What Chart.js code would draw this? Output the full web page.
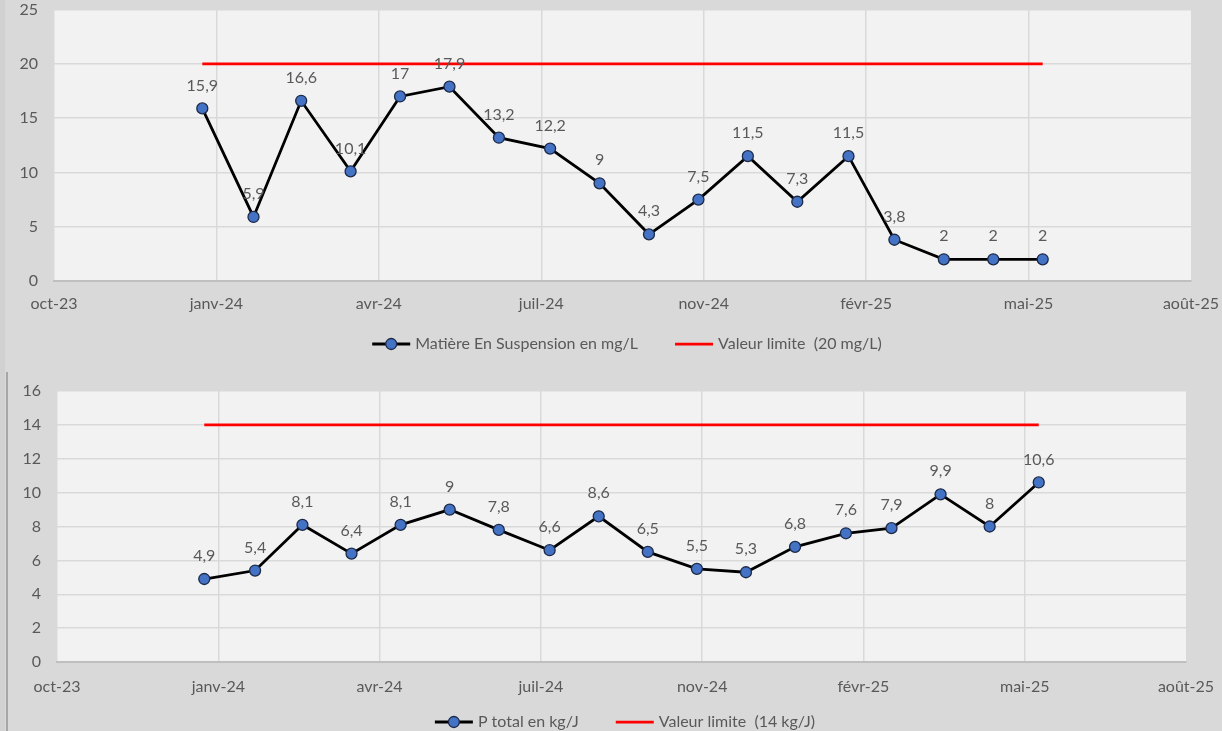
<!DOCTYPE html>
<html>
<head>
<meta charset="utf-8">
<script src="https://cdn.jsdelivr.net/npm/chart.js@4.4.1/dist/chart.umd.min.js"></script>
<style>
  body { margin: 0; background: #d9d9d9; width: 1222px; height: 731px; overflow: hidden; position: relative; }
  canvas { position: absolute; }
  #topChart { left: 0; top: 0; }
  #bottomChart { left: 8px; top: 372px; }
  .strip { position: absolute; left: 0; top: 0; width: 5px; height: 731px; background: #d1d1d1; }
  .frame { position: absolute; left: 6px; top: 372px; width: 2px; height: 359px; background: #a6a6a6; }
</style>
</head>
<body>
<div class="strip"></div>
<div class="frame"></div>
<canvas id="topChart" width="1222" height="362"></canvas>
<canvas id="bottomChart" width="1214" height="368"></canvas>
<script>
// sample dates (every ~4 weeks)
const sampleDates = ['2024-01-23', '2024-02-21', '2024-03-19', '2024-04-16', '2024-05-14', '2024-06-11',
  '2024-07-09', '2024-08-07', '2024-09-04', '2024-10-02', '2024-10-30', '2024-11-27',
  '2024-12-25', '2025-01-23', '2025-02-18', '2025-03-18', '2025-04-15', '2025-05-13'];

const mesValues = [15.9, 5.9, 16.6, 10.1, 17, 17.9, 13.2, 12.2, 9, 4.3, 7.5, 11.5, 7.3, 11.5, 3.8, 2, 2, 2];
const mesLimit = [20, 20, 20, 20, 20, 20, 20, 20, 20, 20, 20, 20, 20, 20, 20, 20, 20, 20];

const pValues = [4.9, 5.4, 8.1, 6.4, 8.1, 9, 7.8, 6.6, 8.6, 6.5, 5.5, 5.3, 6.8, 7.6, 7.9, 9.9, 8, 10.6];
const pLimit = [14, 14, 14, 14, 14, 14, 14, 14, 14, 14, 14, 14, 14, 14, 14, 14, 14, 14];

// x axis: date axis starting 2023-10-31, major unit 92 days
const axisStart = '2023-10-31';
const tickStepDays = 92;
const tickLabels = ['oct-23', 'janv-24', 'avr-24', 'juil-24', 'nov-24', 'févr-25', 'mai-25', 'août-25'];

const textColor = '#595959';
const gridColor = '#d9d9d9';
const markerFill = '#4472c4';
const markerEdge = '#1c2a48';
const font = { family: 'Lato', size: 16 };

function dayOffset(d) {
  return (Date.parse(d) - Date.parse(axisStart)) / 86400000;
}

function points(values) {
  return values.map((v, i) => ({ x: dayOffset(sampleDates[i]), y: v }));
}

const plotBackground = {
  id: 'plotBackground',
  beforeDraw(chart) {
    const { ctx, chartArea: a } = chart;
    ctx.save();
    ctx.fillStyle = '#f2f2f2';
    ctx.fillRect(a.left, a.top, a.width, a.height);
    ctx.restore();
  }
};

// data labels above the points, with a comma as decimal mark
const valueLabels = {
  id: 'valueLabels',
  afterDatasetsDraw(chart) {
    const ctx = chart.ctx;
    const ds = chart.data.datasets[0];
    ctx.save();
    ctx.font = font.size + 'px ' + font.family;
    ctx.fillStyle = textColor;
    ctx.textAlign = 'center';
    ctx.textBaseline = 'middle';
    chart.getDatasetMeta(0).data.forEach((pt, i) => {
      ctx.fillText(String(ds.data[i].y).replace('.', ','), pt.x, pt.y - 23);
    });
    ctx.restore();
  }
};

// Excel style legend: line (with marker when the series has one) then the label
const lineLegend = {
  id: 'lineLegend',
  afterDraw(chart, args, opts) {
    const ctx = chart.ctx;
    ctx.save();
    ctx.font = font.size + 'px ' + font.family;
    const items = chart.data.datasets.map((ds) => ({ ds, w: ctx.measureText(ds.label).width }));
    const symW = 38, textGap = 5, itemGap = 37;
    const total = items.reduce((s, it) => s + symW + textGap + it.w, 0) + itemGap * (items.length - 1);
    let x = opts.centerX - total / 2;
    const y = opts.y;
    items.forEach((it) => {
      ctx.strokeStyle = it.ds.borderColor;
      ctx.lineWidth = it.ds.borderWidth;
      ctx.beginPath();
      ctx.moveTo(x, y);
      ctx.lineTo(x + symW, y);
      ctx.stroke();
      if (it.ds.pointRadius > 0) {
        ctx.beginPath();
        ctx.arc(x + symW / 2, y, it.ds.pointRadius, 0, Math.PI * 2);
        ctx.fillStyle = it.ds.pointBackgroundColor;
        ctx.fill();
        ctx.strokeStyle = it.ds.pointBorderColor;
        ctx.lineWidth = it.ds.pointBorderWidth;
        ctx.stroke();
      }
      ctx.fillStyle = textColor;
      ctx.textAlign = 'left';
      ctx.textBaseline = 'middle';
      ctx.fillText(it.ds.label, x + symW + textGap, y);
      x += symW + textGap + it.w + itemGap;
    });
    ctx.restore();
  }
};

function makeChart(id, opts) {
  return new Chart(document.getElementById(id), {
    type: 'line',
    data: {
      datasets: [{
        label: opts.seriesLabel,
        data: points(opts.values),
        borderColor: '#000000',
        backgroundColor: '#000000',
        borderWidth: 2.8,
        pointRadius: 5.5,
        pointBackgroundColor: markerFill,
        pointBorderColor: markerEdge,
        pointBorderWidth: 1.3,
        tension: 0
      }, {
        label: opts.limitLabel,
        data: points(opts.limit),
        borderColor: '#ff0000',
        backgroundColor: '#ff0000',
        borderWidth: 2.75,
        pointRadius: 0,
        tension: 0
      }]
    },
    options: {
      responsive: false,
      animation: false,
      layout: { padding: opts.padding },
      scales: {
        x: {
          type: 'linear',
          min: 0,
          max: tickStepDays * (tickLabels.length - 1),
          afterBuildTicks: (scale) => {
            scale.ticks = tickLabels.map((l, i) => ({ value: i * tickStepDays }));
          },
          afterFit: (scale) => { scale.height = 40; },
          ticks: {
            autoSkip: false,
            maxRotation: 0,
            padding: 0,
            color: textColor,
            font: font,
            callback: (v, i) => tickLabels[i]
          },
          grid: {
            drawTicks: true,
            tickLength: opts.xTick,
            tickColor: 'rgba(0,0,0,0)',
            lineWidth: 1.5,
            color: (c) => c.index === tickLabels.length - 1 ? 'rgba(0,0,0,0)' : gridColor
          },
          border: { color: '#bfbfbf', width: 2 }
        },
        y: {
          min: 0,
          max: opts.yMax,
          afterFit: (scale) => { scale.width = opts.yWidth; },
          ticks: { stepSize: opts.yStep, padding: 0, color: textColor, font: font },
          grid: { drawTicks: true, tickLength: 16, tickColor: 'rgba(0,0,0,0)', lineWidth: 1.5, color: gridColor },
          border: { display: false }
        }
      },
      plugins: {
        tooltip: { enabled: false },
        legend: { display: false },
        lineLegend: opts.legend
      }
    },
    plugins: [plotBackground, valueLabels, lineLegend]
  });
}

makeChart('topChart', {
  seriesLabel: 'Matière En Suspension en mg/L',
  limitLabel: 'Valeur limite  (20 mg/L)',
  values: mesValues,
  limit: mesLimit,
  yMax: 25,
  yStep: 5,
  padding: { top: 8, left: 0, right: 31, bottom: 41 },
  yWidth: 54,
  xTick: 13,
  legend: { centerX: 627, y: 344 }
});

makeChart('bottomChart', {
  seriesLabel: 'P total en kg/J',
  limitLabel: 'Valeur limite  (14 kg/J)',
  values: pValues,
  limit: pLimit,
  yMax: 16,
  yStep: 2,
  padding: { top: 19, left: 0, right: 36, bottom: 38 },
  yWidth: 49,
  xTick: 15,
  legend: { centerX: 617, y: 350 }
});
</script>
</body>
</html>
